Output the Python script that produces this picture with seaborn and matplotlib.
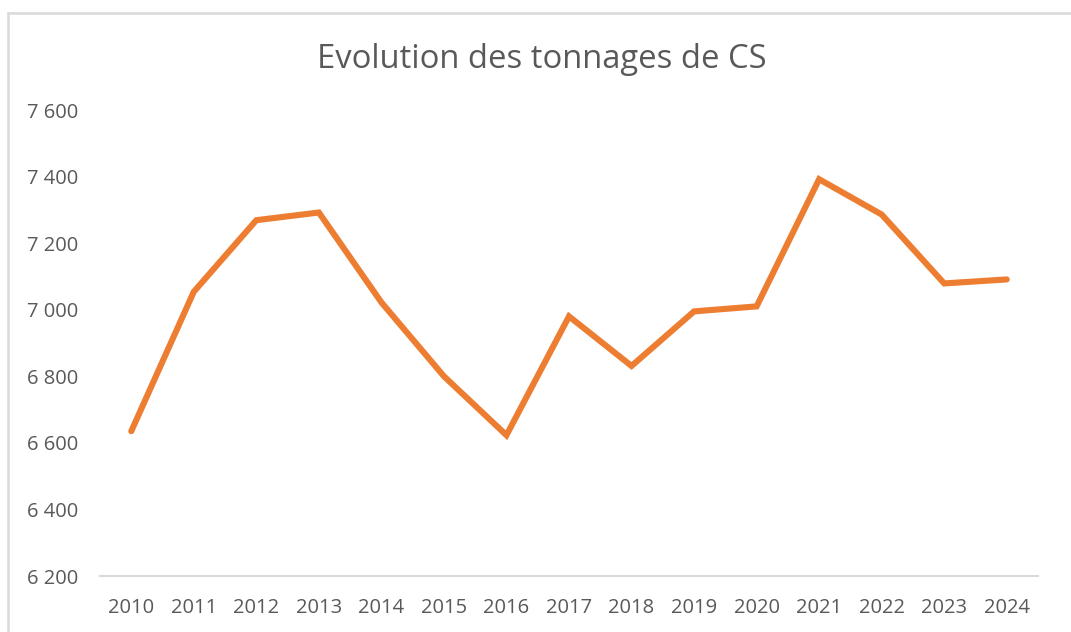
import numpy as np
import pandas as pd
import matplotlib
matplotlib.use("Agg")
import matplotlib.pyplot as plt
import seaborn as sns
from matplotlib.lines import Line2D
from matplotlib.ticker import FuncFormatter

# ---------------------------------------------------------------------------
# Data
# ---------------------------------------------------------------------------
years = ["2010", "2011", "2012", "2013", "2014", "2015", "2016", "2017",
         "2018", "2019", "2020", "2021", "2022", "2023", "2024"]
tonnages = [6635, 7054, 7269, 7292, 7022, 6800, 6623, 6980,
            6831, 6995, 7010, 7392, 7286, 7079, 7091]
y_ticks = [6200, 6400, 6600, 6800, 7000, 7200, 7400, 7600]
title = "Evolution des tonnages de CS"

df = pd.DataFrame({"year": years, "tonnage": tonnages})

# ---------------------------------------------------------------------------
# Style
# ---------------------------------------------------------------------------
sns.set_style("white")
plt.rcParams["font.family"] = ["Open Sans", "DejaVu Sans"]

ORANGE = "#ED7D31"
GREY_TXT = "#595959"
GREY_LINE = "#D9D9D9"

fig = plt.figure(figsize=(10.71, 6.32), dpi=100)
ax = fig.add_axes([100 / 1071, 1 - 576 / 632, 938 / 1071, (576 - 110) / 632])

sns.lineplot(data=df, x="year", y="tonnage", color=ORANGE, linewidth=4.4,
             ax=ax, solid_capstyle="round", solid_joinstyle="miter", sort=False)

ax.set_xlim(-0.5, len(years) - 0.5)
ax.set_ylim(y_ticks[0], y_ticks[-1])
ax.set_yticks(y_ticks)
ax.yaxis.set_major_formatter(FuncFormatter(lambda v, _: f"{int(v):,}".replace(",", " ")))

for side in ["top", "right", "left"]:
    ax.spines[side].set_visible(False)
ax.spines["bottom"].set_color(GREY_LINE)
ax.spines["bottom"].set_linewidth(1.5)

ax.tick_params(axis="both", length=0, labelsize=14.5, labelcolor=GREY_TXT)
ax.tick_params(axis="y", pad=16)
ax.tick_params(axis="x", pad=16)
ax.set_xlabel("")
ax.set_ylabel("")

fig.text(542 / 1071, 1 - 60 / 632, title, ha="center", va="center",
         fontsize=23.6, color=GREY_TXT)

# chart border (top and left edges visible in the crop)
fig.add_artist(Line2D([8 / 1071, 8 / 1071], [0, 1 - 13 / 632],
                      transform=fig.transFigure, color=GREY_LINE, linewidth=1.8))
fig.add_artist(Line2D([8 / 1071, 1], [1 - 13 / 632, 1 - 13 / 632],
                      transform=fig.transFigure, color=GREY_LINE, linewidth=1.8))

fig.savefig("out.png", dpi=100)
plt.close(fig)
